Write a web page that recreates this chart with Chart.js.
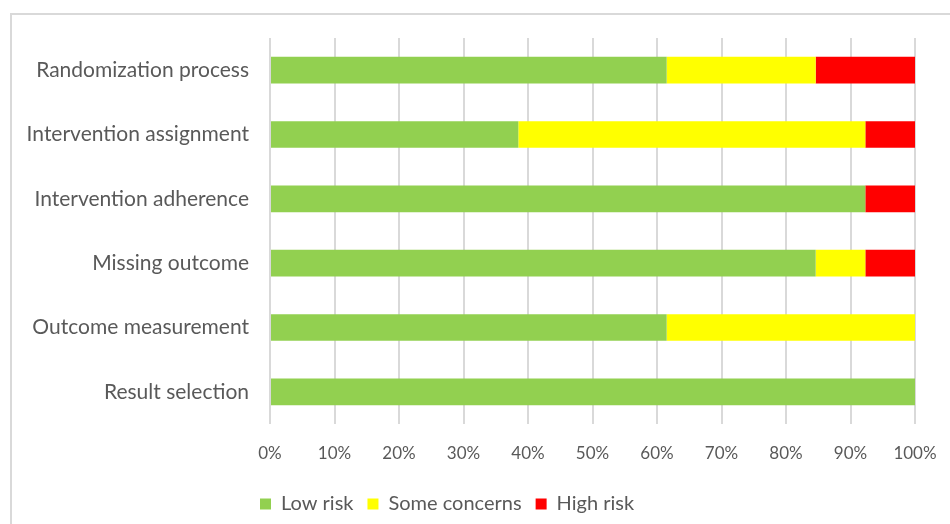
<!DOCTYPE html>
<html>
<head>
<meta charset="utf-8">
<script src="https://cdn.jsdelivr.net/npm/chart.js@4/dist/chart.umd.min.js"></script>
<style>
  html, body { margin: 0; padding: 0; background: #fff; }
  body { width: 950px; height: 524px; position: relative; overflow: hidden; }
  #frame { position: absolute; left: 10px; top: 13px; width: 1000px; height: 600px; border: 2px solid #d9d9d9; box-sizing: border-box; }
  #wrap { position: absolute; left: 0; top: 0; width: 950px; height: 524px; }
</style>
</head>
<body>
<div id="frame"></div>
<div id="wrap"><canvas id="c" width="950" height="524"></canvas></div>
<script>
const categories = ["Randomization process", "Intervention assignment", "Intervention adherence", "Missing outcome", "Outcome measurement", "Result selection"];
const lowRisk = [61.5, 38.5, 92.3, 84.6, 61.5, 100];
const someConcerns = [23.1, 53.8, 0, 7.7, 38.5, 0];
const highRisk = [15.4, 7.7, 7.7, 7.7, 0, 0];
const seriesNames = ["Low risk", "Some concerns", "High risk"];
const tickValues = [0, 10, 20, 30, 40, 50, 60, 70, 80, 90, 100];

const textColor = '#595959';
const fontFamily = 'Lato, "Open Sans", sans-serif';

const legendShift = {
  id: 'legendShift',
  afterLayout(chart) {
    const lg = chart.legend;
    if (!lg) return;
    const dx = 260 - (lg.left + 14);
    lg.left += dx;
    lg.right += dx;
  }
};

new Chart(document.getElementById('c'), {
  type: 'bar',
  data: {
    labels: categories,
    datasets: [
      { label: seriesNames[0], data: lowRisk, backgroundColor: '#92d050' },
      { label: seriesNames[1], data: someConcerns, backgroundColor: '#ffff00' },
      { label: seriesNames[2], data: highRisk, backgroundColor: '#ff0000' }
    ]
  },
  plugins: [legendShift],
  options: {
    indexAxis: 'y',
    responsive: false,
    animation: false,
    devicePixelRatio: 1,
    categoryPercentage: 1,
    barPercentage: 0.415,
    layout: { padding: { left: 0, right: 35, top: 38, bottom: 0 } },
    scales: {
      x: {
        stacked: true,
        min: 0,
        max: 100,
        afterBuildTicks: (s) => { s.ticks = tickValues.map(v => ({ value: v })); },
        afterFit: (s) => { s.height = 56; s.paddingLeft = 0; s.paddingRight = 0; },
        grid: { color: '#d9d9d9', lineWidth: 2, drawTicks: false },
        border: { display: false },
        ticks: {
          color: textColor,
          font: { family: fontFamily, size: 17 },
          padding: 19,
          callback: (v) => v + '%'
        }
      },
      y: {
        stacked: true,
        grid: { display: false },
        border: { display: false },
        afterFit: (s) => { s.width = 270; },
        ticks: {
          color: textColor,
          font: { family: fontFamily, size: 21 },
          padding: 13
        }
      }
    },
    plugins: {
      legend: {
        position: 'bottom',
        align: 'start',
        labels: {
          color: textColor,
          font: { family: fontFamily, size: 20 },
          boxWidth: 11,
          boxHeight: 11,
          padding: 14
        }
      },
      tooltip: { enabled: false }
    }
  }
});
</script>
</body>
</html>
